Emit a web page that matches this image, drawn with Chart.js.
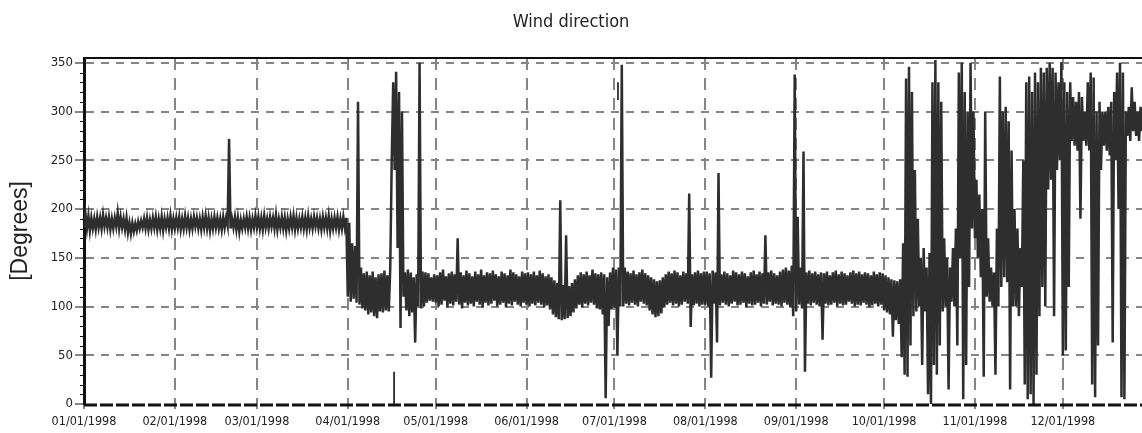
<!DOCTYPE html>
<html>
<head>
<meta charset="utf-8">
<title>Wind direction</title>
<script src="https://cdn.jsdelivr.net/npm/chart.js@4.4.1/dist/chart.umd.min.js"></script>
<style>
  html, body { margin: 0; padding: 0; background: #fff; }
</style>
</head>
<body>
<canvas id="windChart" width="1142" height="433"></canvas>
<script>
// day of year (0 = 1 Jan) where each month starts, and the axis labels
const monthStarts = [0, 31, 59, 90, 120, 151, 181, 212, 243, 273, 304, 334];
const monthLabels = ['01/01/1998', '02/01/1998', '03/01/1998', '04/01/1998', '05/01/1998', '06/01/1998',
                     '07/01/1998', '08/01/1998', '09/01/1998', '10/01/1998', '11/01/1998', '12/01/1998'];
const yTicks = [0, 50, 100, 150, 200, 250, 300, 350];

// [lowest, highest] direction in degrees for each day
const jan = [[181,195],[180,193],[178,191],[180,190],[179,192],[181,191],[180,194],[182,191],[181,192],[179,190],
             [180,191],[182,196],[180,192],[181,190],[179,191],[176,186],[175,186],[177,185],[178,187],[180,188],
             [181,190],[180,191],[179,189],[180,191],[181,192],[179,190],[180,192],[178,190],[181,191],[180,193],
             [179,190]];
const feb = [[180,191],[181,192],[179,190],[180,193],[181,191],[179,190],[180,192],[182,191],[180,190],[179,192],
             [181,193],[180,191],[178,190],[180,192],[181,191],[180,190],[179,192],[181,191],[183,272],[180,190],
             [181,192],[179,191],[177,189],[180,190],[181,192],[180,191],[179,190],[181,193]];
const mar = [[181,192],[180,191],[179,193],[181,190],[180,192],[182,191],[180,194],[179,190],[181,192],[180,191],
             [178,190],[180,192],[181,193],[179,191],[180,190],[181,192],[180,191],[179,193],[181,190],[180,192],
             [182,191],[180,190],[179,192],[181,191],[180,193],[178,190],[180,191],[181,192],[179,190],[180,192],
             [181,191]];
const apr = [[110,186],[105,165],[108,162],[104,310],[102,140],[98,134],[96,136],[92,132],[94,136],[90,130],
             [88,133],[95,134],[94,137],[96,132],[95,140],[250,330],[240,341],[160,320],[78,300],[110,135],
             [96,138],[90,135],[94,130],[63,133],[100,350],[98,136],[100,135],[104,134],[106,130],[105,133]];
const may = [[104,132],[100,135],[102,138],[106,131],[99,134],[103,136],[101,133],[105,170],[102,135],[98,132],
             [104,137],[101,134],[103,131],[100,136],[105,133],[102,138],[99,132],[104,135],[101,134],[103,137],
             [106,133],[100,131],[102,136],[104,134],[99,132],[103,138],[101,135],[105,133],[102,131],[100,136],
             [104,134]];
const jun = [[102,135],[100,133],[103,136],[101,132],[104,137],[102,134],[99,131],[101,133],[97,130],[92,127],
             [89,124],[87,209],[86,122],[87,173],[88,121],[90,124],[94,128],[98,132],[102,135],[99,133],
             [103,136],[101,132],[104,138],[102,134],[98,133],[97,135],[92,133],[6,130],[80,135],[97,140]];
const jul = [[99,138],[50,140],[100,348],[100,140],[103,136],[101,134],[104,137],[102,133],[100,135],[105,138],
             [103,134],[101,132],[96,130],[92,128],[89,126],[90,127],[93,130],[99,133],[102,136],[104,134],
             [101,137],[103,135],[100,132],[102,136],[105,134],[103,216],[79,133],[101,135],[103,137],[100,134],
             [102,136]];
const aug = [[102,136],[100,134],[27,137],[103,135],[63,237],[101,133],[104,136],[102,134],[100,132],[103,137],
             [105,135],[101,133],[102,136],[104,134],[99,131],[103,135],[101,137],[102,133],[104,136],[100,134],
             [103,173],[102,135],[105,137],[101,134],[103,132],[102,136],[100,138],[104,140],[102,137],[99,142],
             [90,338]];
const sep = [[95,192],[102,140],[98,259],[33,135],[103,137],[101,134],[104,136],[102,133],[100,135],[66,134],
             [103,136],[101,132],[102,135],[104,137],[100,133],[103,136],[101,134],[102,132],[105,135],[103,137],
             [100,134],[102,136],[101,133],[104,135],[102,134],[99,132],[101,136],[103,133],[100,135],[102,134]];
const oct = [[96,132],[94,130],[92,128],[69,127],[86,126],[82,128],[48,165],[30,334],[28,346],[60,320],
             [90,240],[95,190],[100,150],[40,160],[95,140],[10,155],[0,330],[40,353],[30,330],[60,310],
             [95,170],[100,150],[15,140],[105,160],[100,180],[60,340],[150,350],[5,320],[40,300],[120,350],
             [180,300]];
const nov = [[170,230],[150,215],[130,200],[28,300],[110,170],[105,140],[100,135],[30,180],[100,336],[120,300],
             [130,305],[125,290],[15,260],[100,200],[100,180],[90,160],[120,250],[20,330],[5,336],[10,320],
             [0,340],[30,330],[90,345],[120,340],[100,345],[220,350],[230,345],[90,340],[240,330],[250,351]];
const dec = [[50,330],[55,320],[120,330],[270,315],[265,310],[260,320],[190,315],[270,300],[265,330],[260,340],
             [20,335],[7,300],[60,310],[240,300],[265,300],[260,305],[255,310],[63,320],[250,340],[200,350],
             [7,340],[5,300],[275,305],[270,325],[280,310],[275,300],[270,305],[280,300]];

// short loose pieces: [day, from, to]
const strayLines = [[105.8, 0, 33], [182.2, 312, 330]];

const months = [jan, feb, mar, apr, may, jun, jul, aug, sep, oct, nov, dec];
const trace = [];
months.forEach((days, m) => {
  days.forEach((d, i) => {
    const day = monthStarts[m] + i;
    trace.push({x: day, y: d[0]}, {x: day + 0.5, y: d[1]});
  });
});
const strays = [];
strayLines.forEach(s => {
  strays.push({x: s[0], y: s[1]}, {x: s[0], y: s[2]}, {x: s[0] + 0.01, y: null});
});

const sans = "'DejaVu Sans Condensed', 'Liberation Sans', sans-serif";

const frame = {
  id: 'frame',
  afterDatasetsDraw(chart) {
    const {ctx, chartArea: a, scales: {y}} = chart;
    ctx.save();
    ctx.strokeStyle = '#111';
    ctx.lineWidth = 1;
    for (let v = 10; v < 355; v += 10) {
      if (v % 50 === 0) continue;
      const py = Math.round(y.getPixelForValue(v)) + 0.5;
      ctx.beginPath(); ctx.moveTo(a.left - 4, py); ctx.lineTo(a.left, py); ctx.stroke();
    }
    ctx.lineWidth = 2;
    ctx.beginPath(); ctx.moveTo(a.left, a.top); ctx.lineTo(a.right, a.top); ctx.stroke();
    ctx.lineWidth = 3;
    ctx.setLineDash([13, 3]);
    ctx.beginPath(); ctx.moveTo(a.left, a.bottom + 1); ctx.lineTo(a.right, a.bottom + 1); ctx.stroke();
    ctx.restore();
  }
};

const ctx = document.getElementById('windChart').getContext('2d');
const windChart = new Chart(ctx, {
  type: 'line',
  data: {
    datasets: [{
      label: 'Wind direction',
      data: trace,
      borderColor: '#2e2e2e',
      borderWidth: 2.5,
      pointRadius: 0,
      tension: 0
    },
    {
      label: 'stray',
      data: strays,
      borderColor: '#2e2e2e',
      borderWidth: 1.8,
      pointRadius: 0,
      spanGaps: false
    }]
  },
  options: {
    responsive: false,
    animation: false,
    layout: { padding: 0 },
    scales: {
      x: {
        type: 'linear',
        min: 0,
        max: 361,
        afterBuildTicks: (scale) => { scale.ticks = monthStarts.map(v => ({value: v})); },
        afterFit: (scale) => { scale.height = 29; },
        ticks: {
          autoSkip: false,
          maxRotation: 0,
          padding: 5,
          color: '#222',
          font: { family: sans, size: 12.5 },
          callback: (v, i) => monthLabels[i]
        },
        grid: {
          color: (c) => c.tick && c.tick.value === 0 ? 'rgba(0,0,0,0)' : '#858585',
          lineWidth: 2,
          tickColor: '#111',
          tickLength: 5,
          tickWidth: 1
        },
        border: { display: false, dash: [12, 8] }
      },
      y: {
        min: 0,
        max: 355,
        afterBuildTicks: (scale) => { scale.ticks = yTicks.map(v => ({value: v})); },
        afterFit: (scale) => { scale.width = 84; },
        title: {
          display: true,
          text: '[Degrees]',
          color: '#222',
          font: { family: "'Liberation Sans', Arial, sans-serif", size: 23 },
          padding: { top: 7, bottom: 0 }
        },
        ticks: {
          padding: 2,
          color: '#222',
          font: { family: sans, size: 13 }
        },
        grid: {
          color: (c) => c.tick && c.tick.value === 0 ? 'rgba(0,0,0,0)' : '#858585',
          lineWidth: 2,
          tickColor: '#111',
          tickLength: 9,
          tickWidth: 1
        },
        border: { display: true, color: '#111', width: 3, dash: [8, 7] }
      }
    },
    plugins: {
      legend: { display: false },
      tooltip: { enabled: false },
      title: {
        display: true,
        text: 'Wind direction',
        color: '#222',
        font: { family: sans, size: 18, weight: 'normal' },
        padding: { top: 12, bottom: 24.4 }
      }
    }
  },
  plugins: [frame]
});
</script>
</body>
</html>
